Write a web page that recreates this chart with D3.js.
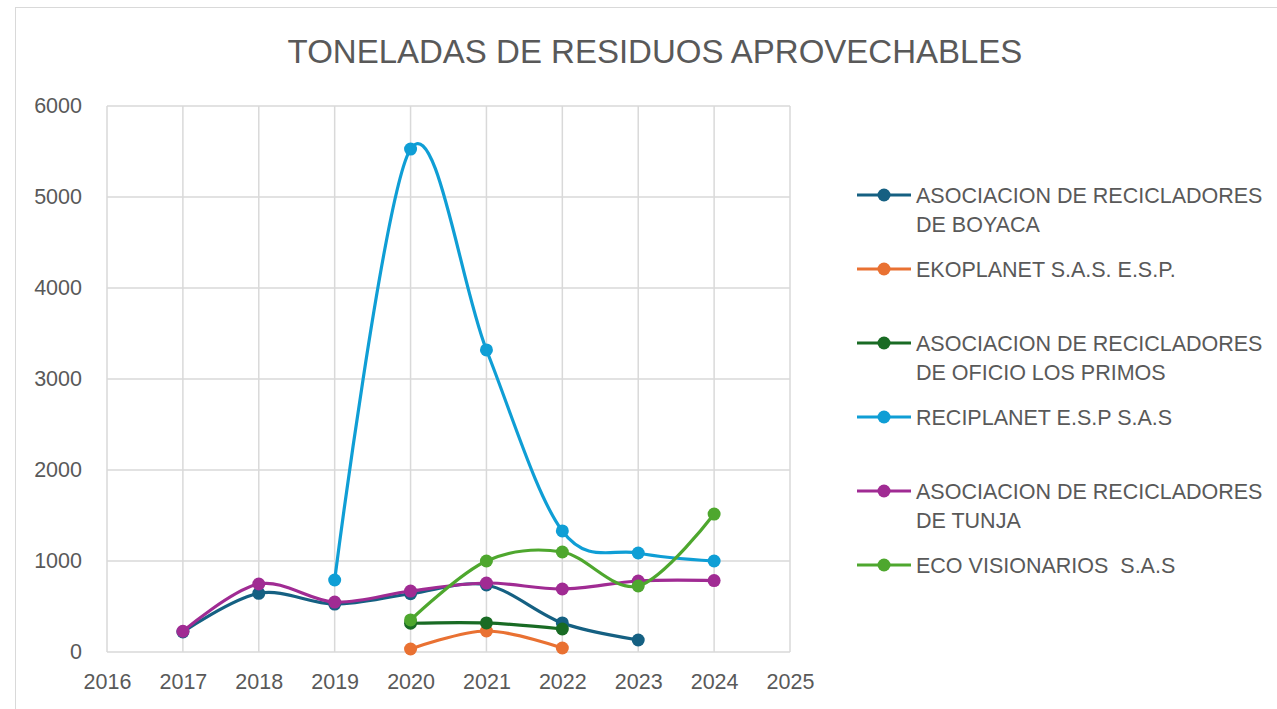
<!DOCTYPE html>
<html><head><meta charset="utf-8">
<script src="https://cdn.jsdelivr.net/npm/d3@7"></script>
<style>body{margin:0;background:#fff}svg{display:block}text{font-family:"Liberation Sans",Arial,sans-serif;fill:#595959;white-space:pre}</style>
</head><body><svg id="c" width="1277" height="709"></svg>
<script>
const title = "TONELADAS DE RESIDUOS APROVECHABLES";
const xTicks = [2016,2017,2018,2019,2020,2021,2022,2023,2024,2025];
const yTicks = [0,1000,2000,3000,4000,5000,6000];
const seriesNames = [["ASOCIACION DE RECICLADORES","DE BOYACA"],["EKOPLANET S.A.S. E.S.P."],["ASOCIACION DE RECICLADORES","DE OFICIO LOS PRIMOS"],["RECIPLANET E.S.P S.A.S"],["ASOCIACION DE RECICLADORES","DE TUNJA"],["ECO VISIONARIOS  S.A.S"]];
const seriesColors = ["#156082","#E97132","#196B24","#0F9ED5","#A02B93","#4EA72E"];
const boyaca = [[2017,220],[2018,645],[2019,527],[2020,640],[2021,736],[2022,319],[2023,132]];
const ekoplanet = [[2020,33],[2021,231],[2022,44]];
const losPrimos = [[2020,316],[2021,319],[2022,253]];
const reciplanet = [[2019,791],[2020,5527],[2021,3319],[2022,1330],[2023,1088],[2024,1000]];
const tunja = [[2017,228],[2018,747],[2019,549],[2020,670],[2021,758],[2022,692],[2023,780],[2024,785]];
const ecoVisionarios = [[2020,352],[2021,1000],[2022,1099],[2023,725],[2024,1516]];
const seriesData = [boyaca, ekoplanet, losPrimos, reciplanet, tunja, ecoVisionarios];

const svg = d3.select("#c");
svg.append("rect").attr("x",15.5).attr("y",7.5).attr("width",1270).attr("height",710).attr("fill","#fff").attr("stroke","#d9d9d9").attr("stroke-width",1);
const x = d3.scaleLinear().domain([2016,2025]).range([107,790]);
const y = d3.scaleLinear().domain([0,6000]).range([652,106]);

svg.append("text").attr("x",655).attr("y",63).attr("text-anchor","middle").style("font-size","33px").text(title);

const grid = svg.append("g");
grid.selectAll(".h").data(yTicks).join("line").attr("x1",x(2016)).attr("x2",x(2025)).attr("y1",d=>y(d)).attr("y2",d=>y(d)).attr("stroke","#d9d9d9").attr("stroke-width",1.5);
grid.selectAll(".v").data(xTicks).join("line").attr("y1",y(0)).attr("y2",y(6000)).attr("x1",d=>x(d)).attr("x2",d=>x(d)).attr("stroke","#d9d9d9").attr("stroke-width",1.5);

const yAxis = svg.append("g").attr("transform",`translate(${x(2016)},0)`).call(d3.axisLeft(y).tickValues(yTicks).tickSize(0).tickPadding(25).tickFormat(d3.format("d")));
yAxis.select(".domain").remove();
yAxis.selectAll("text").style("font-size","21.5px").attr("fill","#595959");
const xAxis = svg.append("g").attr("transform",`translate(0,${y(0)})`).call(d3.axisBottom(x).tickValues(xTicks).tickSize(0).tickPadding(22).tickFormat(d3.format("d")));
xAxis.select(".domain").remove();
xAxis.selectAll("text").style("font-size","21.5px").attr("fill","#595959");

const line = d3.line().x(d=>x(d[0])).y(d=>y(d[1])).curve(d3.curveCardinal.tension(0));
seriesData.forEach((s,i)=>{
  const g = svg.append("g");
  g.append("path").attr("d",line(s)).attr("fill","none").attr("stroke",seriesColors[i]).attr("stroke-width",3.2);
  g.selectAll("circle").data(s).join("circle").attr("cx",d=>x(d[0])).attr("cy",d=>y(d[1])).attr("r",6.5).attr("fill",seriesColors[i]);
});

const legendY = [195,269,343,417,491,565];
const leg = svg.append("g");
seriesNames.forEach((nm,i)=>{
  const ly = legendY[i];
  leg.append("line").attr("x1",857).attr("x2",911).attr("y1",ly).attr("y2",ly).attr("stroke",seriesColors[i]).attr("stroke-width",3.2);
  leg.append("circle").attr("cx",884).attr("cy",ly).attr("r",6.5).attr("fill",seriesColors[i]);
  nm.forEach((t,j)=>{
    leg.append("text").attr("x",916).attr("y",ly+29*j).attr("dy","0.35em").style("font-size","21.5px").text(t);
  });
});
</script></body></html>
